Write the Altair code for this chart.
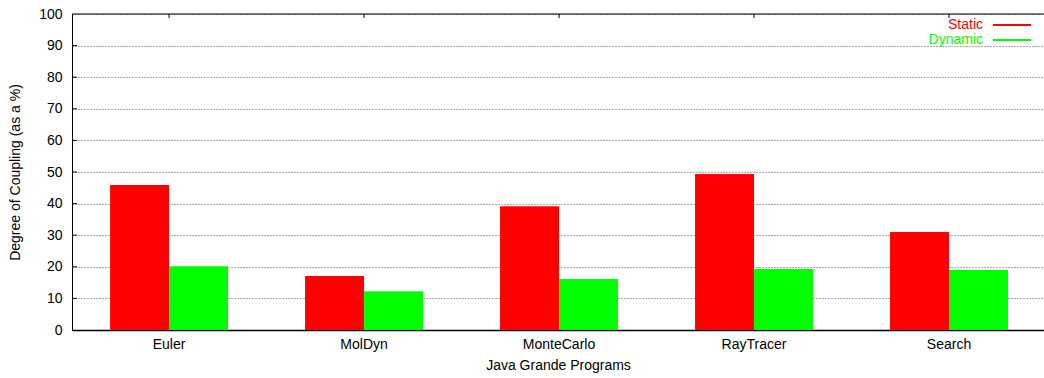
import altair as alt
import pandas as pd

# Degree of coupling for the Java Grande benchmark programs
programs = ["Euler", "MolDyn", "MonteCarlo", "RayTracer", "Search"]
static_vals = [45.9, 17.1, 39.2, 49.4, 31.0]
dynamic_vals = [20.2, 12.3, 16.1, 19.3, 19.0]
series = ["Static", "Dynamic"]
colors = ["#ff0000", "#00ff00"]
y_ticks = [0, 10, 20, 30, 40, 50, 60, 70, 80, 90, 100]

W, H = 972, 316
FONT = "Liberation Sans"

rows = []
for p, s, d in zip(programs, static_vals, dynamic_vals):
    rows.append({"program": p, "series": "Static", "value": s})
    rows.append({"program": p, "series": "Dynamic", "value": d})
df = pd.DataFrame(rows)

x_scale = alt.Scale(paddingInner=0.395, paddingOuter=0.19, align=0.514)
color_scale = alt.Scale(domain=series, range=colors)
y_scale = alt.Scale(domain=[0, 100], nice=False)

x_enc = alt.X(
    "program:N",
    sort=programs,
    scale=x_scale,
    axis=alt.Axis(
        title="Java Grande Programs",
        labelAngle=0,
        tickSize=0,
        labelPadding=7,
        domainColor="#000000",
        domainWidth=1.5,
        titleY=35,
        titleBaseline="middle",
    ),
)

bars = alt.Chart(df).mark_bar(stroke=None).encode(
    x=x_enc,
    xOffset=alt.XOffset("series:N", sort=series, scale=alt.Scale(domain=series)),
    y=alt.Y(
        "value:Q",
        scale=y_scale,
        axis=alt.Axis(
            title="Degree of Coupling (as a %)",
            values=y_ticks,
            tickSize=0,
            labelPadding=10,
            domainColor="#000000",
            domainWidth=1,
            grid=True,
            gridColor="#555555",
            gridDash=[1, 2],
            gridWidth=1,
            titleAngle=270,
            titleX=-57,
            titleY=H / 2,
            titleAlign="center",
            titleBaseline="middle",
        ),
    ),
    color=alt.Color("series:N", scale=color_scale, legend=None),
)

# top border of the frame
top_border = alt.Chart(pd.DataFrame({"k": [0]})).mark_rule(color="#000000", strokeWidth=1).encode(
    x=alt.value(0), x2=alt.value(W), y=alt.value(0)
)

# inward tick marks on the top edge at each program
top_ticks = alt.Chart(pd.DataFrame({"program": programs})).mark_rule(color="#000000").encode(
    x=alt.X("program:N", sort=programs),
    y=alt.value(0),
    y2=alt.value(4),
)

# inward tick marks on the left edge
left_ticks = alt.Chart(pd.DataFrame({"t": y_ticks[1:-1]})).mark_rule(color="#000000").encode(
    y=alt.Y("t:Q", scale=y_scale, axis=None),
    x=alt.value(0),
    x2=alt.value(5),
)

# key in the top-right corner
key_df = pd.DataFrame({"series": series, "row": [0, 1]})
key_y = alt.Y("row:Q", scale=alt.Scale(domain=[0, 1], range=[11, 26]), axis=None)
key_text = alt.Chart(key_df).mark_text(align="right", baseline="middle", fontSize=14, font=FONT).encode(
    x=alt.value(911),
    y=key_y,
    text="series:N",
    color=alt.Color("series:N", scale=color_scale, legend=None),
)
key_lines = alt.Chart(key_df).mark_rule(strokeWidth=2).encode(
    x=alt.value(921),
    x2=alt.value(959),
    y=key_y,
    color=alt.Color("series:N", scale=color_scale, legend=None),
)
key = alt.layer(key_text, key_lines)

chart = (
    alt.layer(bars, top_border, top_ticks, left_ticks, key)
    .resolve_scale(y="independent")
    .properties(
        width=W,
        height=H,
        autosize=alt.AutoSizeParams(type="none"),
        padding={"left": 72, "top": 14, "right": 0, "bottom": 48},
        background="#ffffff",
    )
    .configure_view(stroke=None)
    .configure_axis(
        labelFont=FONT,
        titleFont=FONT,
        labelFontSize=14,
        titleFontSize=14,
        labelColor="#000000",
        titleColor="#000000",
        titleFontWeight="normal",
    )
)

chart.save("out.html", embed_options={"renderer": "svg", "actions": False})
